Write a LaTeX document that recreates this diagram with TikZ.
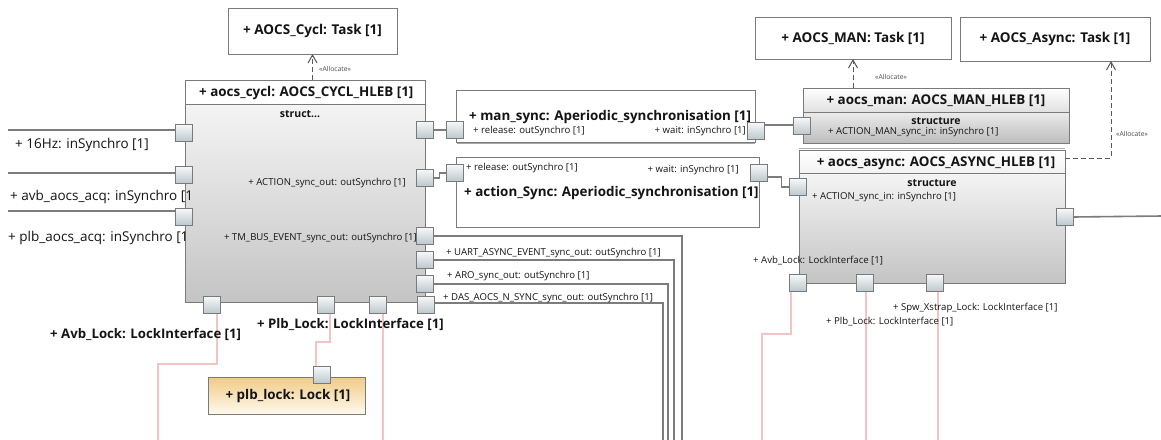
\documentclass[tikz,border=0pt]{standalone}
\usepackage{fontspec}
\setmainfont{Open Sans}
\usetikzlibrary{arrows.meta,calc}
\definecolor{edge}{HTML}{7A7A7A}
\definecolor{portA}{HTML}{F6F8F9}
\definecolor{portB}{HTML}{BCC7CC}
\definecolor{lockc}{HTML}{F2C4C4}
\definecolor{wirec}{HTML}{7C7C7C}
\definecolor{lockA}{HTML}{F0CB85}
\definecolor{lockB}{HTML}{FFF9EE}
\definecolor{bodyA}{HTML}{F4F4F4}
\definecolor{bodyB}{HTML}{C4C4C4}
\definecolor{txt}{HTML}{141414}
\pgfdeclarelayer{bg}
\pgfsetlayers{bg,main}
\tikzset{
  port/.style={draw=edge, line width=0.9pt, top color=portA, bottom color=portB,
    minimum width=17pt, minimum height=17pt, inner sep=0pt, outer sep=0pt},
  plainbox/.style={draw=edge, line width=1pt, fill=white, inner sep=0pt, outer sep=0pt},
  lockbox/.style={draw=edge, line width=1pt, top color=lockA, bottom color=lockB, inner sep=0pt, outer sep=0pt},
  taskf/.style={font=\fontsize{13.5}{15}\selectfont\bfseries, text=txt, inner sep=0pt},
  titlef/.style={font=\fontsize{13.4}{15}\selectfont\bfseries, text=txt, inner sep=0pt},
  midf/.style={font=\fontsize{13.5}{15}\selectfont, text=txt, inner sep=0pt},
  midbf/.style={font=\fontsize{13.2}{15}\selectfont\bfseries, text=txt, inner sep=0pt},
  tinyf/.style={font=\fontsize{9.6}{11}\selectfont, text=txt, inner sep=0pt},
  structf/.style={font=\fontsize{10.5}{12}\selectfont\bfseries, text=txt, inner sep=0pt},
  allocf/.style={font=\fontsize{6.8}{8}\selectfont, text=black!70, inner sep=0pt},
  wire/.style={draw=wirec, line width=1.6pt},
  lockline/.style={draw=lockc, line width=1.5pt},
  alloc/.style={draw=black!65, line width=1pt, dash pattern=on 5pt off 3pt,
    -{Straight Barb[length=8pt,width=9pt,line width=1pt]}},
}
\begin{document}
\begin{tikzpicture}[x=1pt,y=-1pt]
\begin{pgfonlayer}{bg}
\fill[white] (0,0) rectangle (1161,439);
\end{pgfonlayer}
\useasboundingbox (0,0) rectangle (1161,439);

% ---------- task boxes
\node[plainbox, minimum width=169pt, minimum height=46pt] (cyclTask) at (312.5,31) {};
\node[taskf] at (cyclTask.center) {+ AOCS\_Cycl: Task [1]};
\node[plainbox, minimum width=196pt, minimum height=42pt] (manTask) at (853,38) {};
\node[taskf] at (manTask.center) {+ AOCS\_MAN: Task [1]};
\node[plainbox, minimum width=190pt, minimum height=44pt] (asyncTask) at (1055,39) {};
\node[taskf] at (asyncTask.center) {+ AOCS\_Async: Task [1]};

% ---------- aocs_cycl
\node[plainbox, minimum width=240pt, minimum height=222pt] (cycl) at (305,191) {};
\shade[top color=bodyA, bottom color=bodyB] ([yshift=-24pt]cycl.north west) rectangle (cycl.south east);
\draw[edge, line width=1pt] (cycl.north west) rectangle (cycl.south east);
\draw[edge, line width=1pt] ([yshift=-24pt]cycl.north west) -- ([yshift=-24pt]cycl.north east);
\node[titlef, anchor=west] at (199,93) {+ aocs\_cycl: AOCS\_CYCL\_HLEB [1]};
\node[structf] at (300,114) {struct...};

% ---------- man_sync / action_Sync
\draw[black!35, line width=1pt] (457,143.5) -- (755,143.5);
\node[plainbox, minimum width=299pt, minimum height=52pt] (mansync) at (605.5,116) {};
\node[titlef, anchor=west] at (469,117) {+ man\_sync: Aperiodic\_synchronisation [1]};
\node[tinyf, anchor=west] at (473,131) {+ release: outSynchro [1]};
\node[tinyf, anchor=east] at (746,131) {+ wait: inSynchro [1]};

\node[plainbox, minimum width=303pt, minimum height=70pt] (actsync) at (607.5,192) {};
\node[titlef, anchor=west] at (464,193) {+ action\_Sync: Aperiodic\_synchronisation [1]};
\node[tinyf, anchor=west] at (466,168) {+ release: outSynchro [1]};
\node[tinyf, anchor=east] at (739,170) {+ wait: inSynchro [1]};

% ---------- aocs_man
\node[plainbox, minimum width=266pt, minimum height=55pt] (man) at (936,115.5) {};
\shade[top color=white, bottom color=black!12] (man.north west) rectangle ([yshift=-24pt]man.north east);
\shade[top color=black!8, bottom color=black!26] ([yshift=-24pt]man.north west) rectangle (man.south east);
\draw[edge, line width=1pt] (man.north west) rectangle (man.south east);
\draw[edge, line width=1pt] ([yshift=-24pt]man.north west) -- ([yshift=-24pt]man.north east);
\draw[black!30, line width=0.8pt] (799,148) -- (1065,148);
\node[titlef] at (936,101) {+ aocs\_man: AOCS\_MAN\_HLEB [1]};
\node[structf] at (936,121) {structure};
\node[tinyf, anchor=west] at (828,132) {+ ACTION\_MAN\_sync\_in: inSynchro [1]};

% ---------- aocs_async
\node[plainbox, minimum width=266pt, minimum height=133pt] (async) at (932,216.5) {};
\shade[top color=white, bottom color=black!5] (async.north west) rectangle ([yshift=-23pt]async.north east);
\shade[top color=bodyA, bottom color=bodyB] ([yshift=-23pt]async.north west) rectangle (async.south east);
\draw[edge, line width=1pt] (async.north west) rectangle (async.south east);
\draw[edge, line width=1pt] ([yshift=-23pt]async.north west) -- ([yshift=-23pt]async.north east);
\node[titlef] at (936,163) {+ aocs\_async: AOCS\_ASYNC\_HLEB [1]};
\node[structf] at (932,183) {structure};
\node[tinyf, anchor=west] at (812,197) {+ ACTION\_sync\_in: inSynchro [1]};

% ---------- plb_lock
\node[lockbox, minimum width=157pt, minimum height=37pt] (lock) at (286.5,395.5) {};
\node[titlef] at (288,396) {+ plb\_lock: Lock [1]};

% ---------- ports
\node[port] (p16) at (184,133) {};
\node[port] (pavb) at (184,175) {};
\node[port] (pplb) at (184,217) {};
\node[port] (pman) at (425,130) {};
\node[port] (pact) at (425,178) {};
\node[port] (ptm) at (425,236) {};
\node[port] (puart) at (425,260) {};
\node[port] (paro) at (425,284) {};
\node[port] (pdas) at (426,305) {};
\node[port] (pavbl) at (212,305) {};
\node[port] (pplbl) at (326,305) {};
\node[port] (pspw) at (378,305) {};
\node[port] (mrel) at (455,130) {};
\node[port] (mwait) at (756,131) {};
\node[port] (arel) at (455,173) {};
\node[port] (await) at (759,173) {};
\node[port] (manin) at (802,126) {};
\node[port] (asyin) at (798,187) {};
\node[port] (asyout) at (1065,217) {};
\node[port] (asyb1) at (798,283) {};
\node[port] (asyb2) at (865,283) {};
\node[port] (asyb3) at (935,283) {};
\node[port] (lockp) at (322,375) {};

% ---------- free ends
\coordinate (w16) at (8,130);
\coordinate (wAvb) at (8,173);
\coordinate (wPlb) at (8,211);
\coordinate (eTM) at (682,440);
\coordinate (eUart) at (674,440);
\coordinate (eAro) at (668,440);
\coordinate (eDas) at (663,440);
\coordinate (eOut) at (1162,216);
\coordinate (tAvb) at (158,364);
\coordinate (eAvb) at (158,440);
\coordinate (tPlb) at (316,342);
\coordinate (eSpw) at (383,440);
\coordinate (tAs) at (762,334);
\coordinate (eAs) at (762,440);
\coordinate (eAs2) at (866,440);
\coordinate (eAs3) at (938,440);

% ---------- connectors
\begin{pgfonlayer}{bg}
\draw[wire] (w16) -- (w16 -| p16.west);
\draw[wire] (wAvb) -- (wAvb -| pavb.west);
\draw[wire] (wPlb) -- (wPlb -| pplb.west);
\draw[wire] (pman) -- (mrel);
\draw[wire] (pact.east) -- ++(6,0) |- (arel.west);
\draw[wire] ([yshift=6pt]mwait.east) -- ([yshift=6pt]mwait.east -| manin.west);
\draw[wire] ([yshift=-4pt]await.east) -- ++(14,0) |- (asyin.west);
\draw[wire] (ptm.east) -| (eTM);
\draw[wire] (puart.east) -| (eUart);
\draw[wire] (paro.east) -| (eAro);
\draw[wire] ([yshift=2pt]pdas.east) -| (eDas);
\draw[wire] (asyout.east) -- (eOut);
\draw[lockline] ([xshift=5pt]pavbl.south) |- (tAvb) -- (eAvb);
\draw[lockline] ([xshift=4pt]pplbl.south) |- (tPlb) -- ([xshift=-6pt]lockp.north);
\draw[lockline] ([xshift=5pt]pspw.south) -- (eSpw);
\draw[lockline] ([xshift=-7pt]asyb1.south) |- (tAs) -- (eAs);
\draw[lockline] ([xshift=1pt]asyb2.south) -- (eAs2);
\draw[lockline] ([xshift=3pt]asyb3.south) -- (eAs3);
\end{pgfonlayer}

% ---------- allocations
\draw[alloc] (cyclTask.south |- cycl.north) -- (cyclTask.south);
\node[allocf, anchor=west] at (319,69) {«Allocate»};
\draw[alloc] (manTask.south |- man.north) -- (manTask.south);
\node[allocf, anchor=west] at (875,77) {«Allocate»};
\draw[alloc] ([yshift=-8pt]async.north east) -| ([xshift=56pt]asyncTask.south);
\node[allocf, anchor=west] at (1116,134) {«Allocate»};

% ---------- port labels
\node[midf, anchor=west] at (15,145) {+ 16Hz: inSynchro [1]};
\node[midf, anchor=west] at (10,197) {+ avb\_aocs\_acq: inSynchro [1};
\node[midf, anchor=west] at (8,238) {+ plb\_aocs\_acq: inSynchro [1};
\node[tinyf, anchor=east] at (406,183) {+ ACTION\_sync\_out: outSynchro [1]};
\node[tinyf, anchor=east] at (417,238) {+ TM\_BUS\_EVENT\_sync\_out: outSynchro [1]};
\node[tinyf, anchor=west] at (446,253) {+ UART\_ASYNC\_EVENT\_sync\_out: outSynchro [1]};
\node[tinyf, anchor=west] at (447,276) {+ ARO\_sync\_out: outSynchro [1]};
\node[tinyf, anchor=west] at (443,298) {+ DAS\_AOCS\_N\_SYNC\_sync\_out: outSynchro [1]};
\node[midbf, anchor=west] at (50,334) {+ Avb\_Lock: LockInterface [1]};
\node[midbf, anchor=west] at (257,324) {+ Plb\_Lock: LockInterface [1]};
\node[tinyf, anchor=west] at (753,261) {+ Avb\_Lock: LockInterface [1]};
\node[tinyf, anchor=west] at (893,308) {+ Spw\_Xstrap\_Lock: LockInterface [1]};
\node[tinyf, anchor=west] at (826,322) {+ Plb\_Lock: LockInterface [1]};
\end{tikzpicture}
\end{document}
